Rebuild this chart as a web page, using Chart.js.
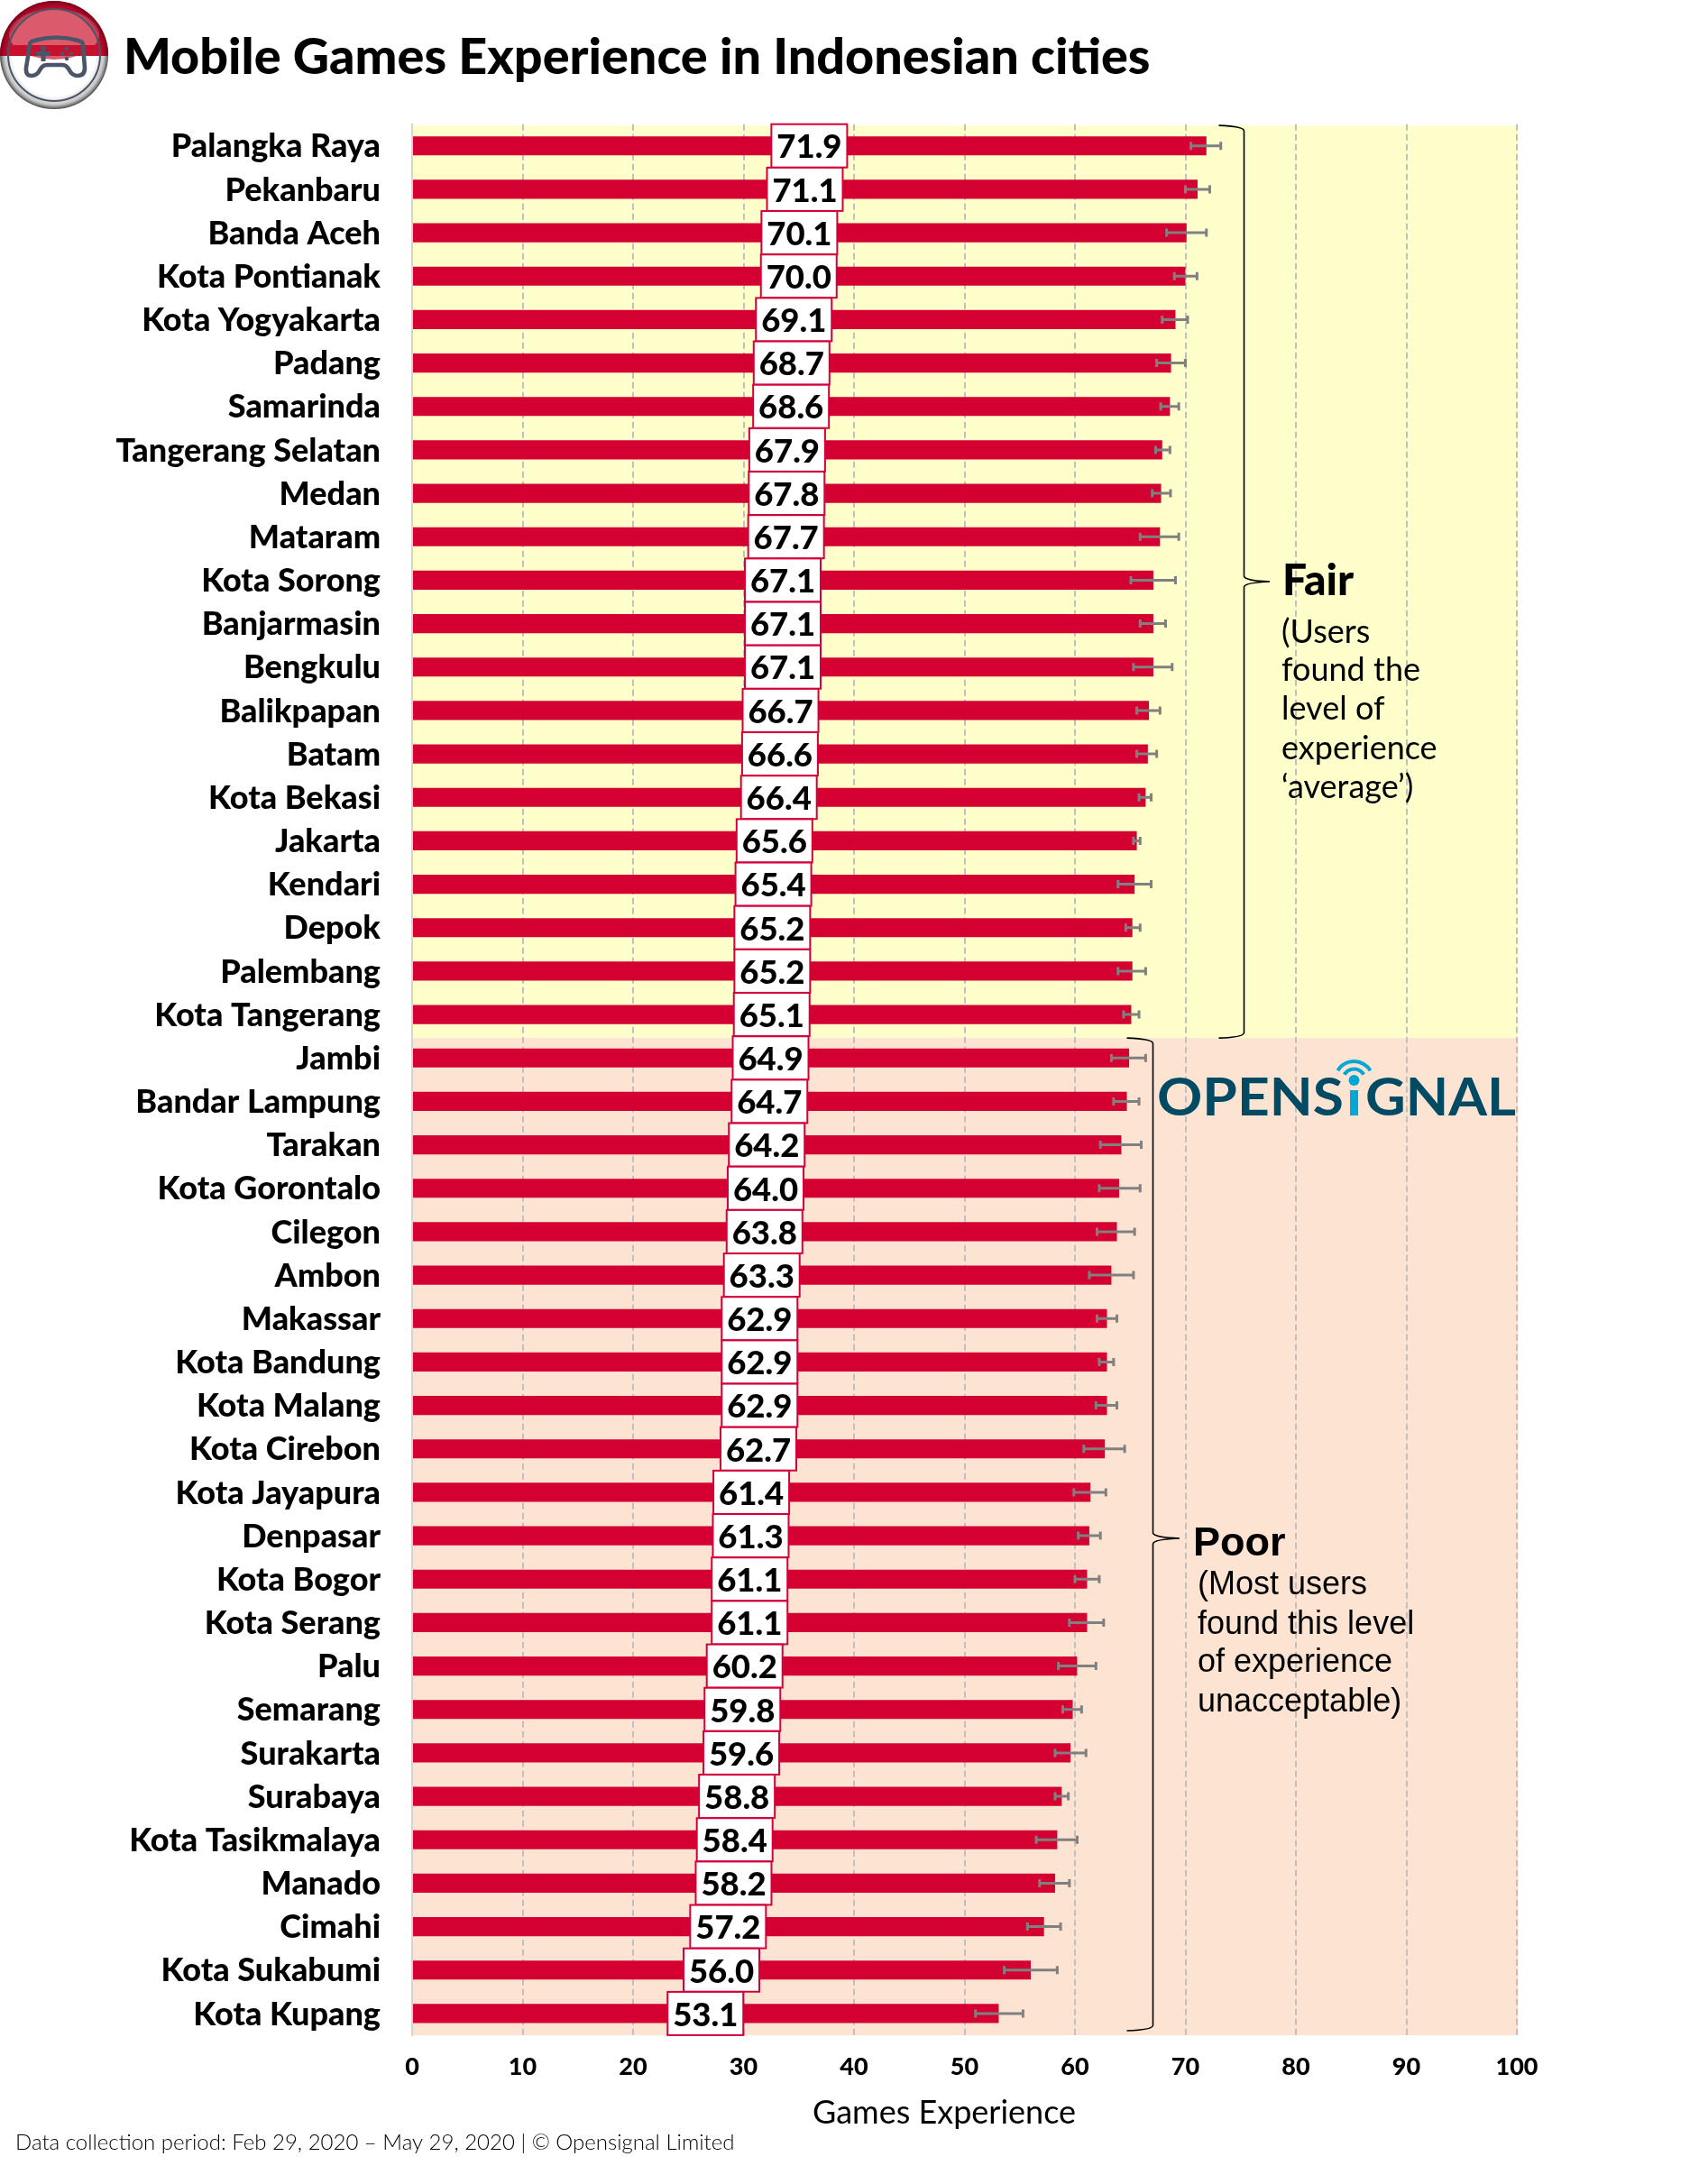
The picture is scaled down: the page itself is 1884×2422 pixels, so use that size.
<!DOCTYPE html>
<html>
<head>
<meta charset="utf-8">
<style>html,body{margin:0;padding:0;background:#fff}canvas{display:block}</style>
<script src="https://cdn.jsdelivr.net/npm/chart.js@4"></script>
</head>
<body>
<canvas id="c" width="1884" height="2422" style="width:1884px;height:2422px"></canvas>
<script>
const cities = ["Palangka Raya","Pekanbaru","Banda Aceh","Kota Pontianak","Kota Yogyakarta","Padang","Samarinda","Tangerang Selatan","Medan","Mataram","Kota Sorong","Banjarmasin","Bengkulu","Balikpapan","Batam","Kota Bekasi","Jakarta","Kendari","Depok","Palembang","Kota Tangerang","Jambi","Bandar Lampung","Tarakan","Kota Gorontalo","Cilegon","Ambon","Makassar","Kota Bandung","Kota Malang","Kota Cirebon","Kota Jayapura","Denpasar","Kota Bogor","Kota Serang","Palu","Semarang","Surakarta","Surabaya","Kota Tasikmalaya","Manado","Cimahi","Kota Sukabumi","Kota Kupang"];
const scores = [71.9,71.1,70.1,70.0,69.1,68.7,68.6,67.9,67.8,67.7,67.1,67.1,67.1,66.7,66.6,66.4,65.6,65.4,65.2,65.2,65.1,64.9,64.7,64.2,64.0,63.8,63.3,62.9,62.9,62.9,62.7,61.4,61.3,61.1,61.1,60.2,59.8,59.6,58.8,58.4,58.2,57.2,56.0,53.1];
const errorLow = [70.5,70.0,68.3,69.0,67.9,67.4,67.76,67.3,67.0,65.9,65.06,65.9,65.3,65.6,65.6,65.8,65.3,63.9,64.6,63.9,64.4,63.3,63.5,62.3,62.2,62.0,61.3,62.0,62.2,61.9,60.8,59.9,60.3,60.0,59.5,58.5,58.9,58.2,58.2,56.5,56.8,55.7,53.6,51.0];
const errorHigh = [73.2,72.2,71.9,71.05,70.2,70.0,69.4,68.6,68.65,69.4,69.1,68.2,68.8,67.7,67.4,66.9,65.9,66.9,65.9,66.4,65.8,66.4,65.8,66.0,65.9,65.4,65.3,63.8,63.5,63.8,64.5,62.8,62.3,62.2,62.6,61.9,60.6,61.0,59.4,60.2,59.5,58.7,58.4,55.3];
const xTicks = [0,10,20,30,40,50,60,70,80,90,100];
const fairCount = 21;
const titleText = "Mobile Games Experience in Indonesian cities";
const axisTitle = "Games Experience";
const footer = "Data collection period: Feb 29, 2020 \u2013 May 29, 2020 | \u00A9 Opensignal Limited";
const fairHead = "Fair";
const fairBody = ["(Users","found the","level of","experience","\u2018average\u2019)"];
const poorHead = "Poor";
const poorBody = ["(Most users","found this level","of experience","unacceptable)"];

const RED = "#D30031", BORDER = "#D4003A", YELLOW = "#FFFFCC", PEACH = "#FDE3D2";

function brace(ctx, x, top, mid, bot, tip, back){
  ctx.save(); ctx.strokeStyle="#000"; ctx.lineWidth=1.6; ctx.beginPath();
  ctx.moveTo(x-back, top);
  ctx.quadraticCurveTo(x, top+1, x, top+6);
  ctx.lineTo(x, mid-6);
  ctx.quadraticCurveTo(x+1, mid-1, tip, mid);
  ctx.quadraticCurveTo(x+1, mid+1, x, mid+6);
  ctx.lineTo(x, bot-6);
  ctx.quadraticCurveTo(x, bot-1, x-back, bot);
  ctx.stroke(); ctx.restore();
}
function drawIcon(ctx){
  const cx=60, cy=61, r=60;
  ctx.save();
  ctx.beginPath(); ctx.arc(cx,cy,r,0,Math.PI*2); ctx.clip();
  ctx.fillStyle="#C8102E"; ctx.fillRect(0,0,120,62);
  ctx.fillStyle="#FFFFFF"; ctx.fillRect(0,62,120,62);
  // top gloss
  ctx.fillStyle="#DB5A6B"; ctx.beginPath(); ctx.ellipse(60,38,50,28,0,0,Math.PI*2); ctx.fill();
  ctx.fillStyle="#C8102E"; ctx.fillRect(0,50,120,12);
  // rim shading: dark red above, grey below
  const g1=ctx.createRadialGradient(cx,cy,50,cx,cy,60);
  g1.addColorStop(0,"rgba(140,0,30,0)"); g1.addColorStop(1,"rgba(110,0,25,.85)");
  ctx.fillStyle=g1; ctx.fillRect(0,0,120,62);
  const g2=ctx.createRadialGradient(cx,cy,46,cx,cy,60);
  g2.addColorStop(0,"rgba(120,120,120,0)"); g2.addColorStop(.65,"rgba(110,110,110,.4)"); g2.addColorStop(1,"rgba(50,50,50,.9)");
  ctx.fillStyle=g2; ctx.fillRect(0,62,120,62);
  ctx.restore();
  ctx.save();
  ctx.strokeStyle="#4A5568"; ctx.fillStyle="#4A5568"; ctx.lineWidth=2;
  ctx.beginPath(); ctx.arc(cx,cy,51,0,Math.PI*2); ctx.stroke();
  ctx.lineWidth=4.6; ctx.lineJoin="round";
  ctx.beginPath();
  ctx.moveTo(33,50); ctx.quadraticCurveTo(33,46,38,45); ctx.quadraticCurveTo(62,38,87,45); ctx.quadraticCurveTo(92,46,92,50);
  ctx.lineTo(94,75); ctx.quadraticCurveTo(94,84,86,84); ctx.quadraticCurveTo(80,84,77,78); ctx.quadraticCurveTo(74,72,69,72);
  ctx.lineTo(52,72); ctx.quadraticCurveTo(47,72,44,78); ctx.quadraticCurveTo(41,84,35,84); ctx.quadraticCurveTo(28,84,29,75);
  ctx.closePath(); ctx.stroke();
  ctx.fillRect(40,57,16,5); ctx.fillRect(45.5,51,5,17);
  [[74,54],[74,65],[69,59.5],[79,59.5]].forEach(p=>{ctx.beginPath();ctx.arc(p[0],p[1],2.3,0,Math.PI*2);ctx.fill();});
  ctx.restore();
}
function fitText(ctx, txt, x0, x1, base){
  const w=ctx.measureText(txt).width;
  ctx.save(); ctx.translate(x0,base); ctx.scale((x1-x0)/w,1); ctx.textAlign="left"; ctx.fillText(txt,0,0); ctx.restore();
}
function drawLogo(ctx){
  ctx.save();
  ctx.font="700 58px Lato"; ctx.textBaseline="alphabetic"; ctx.fillStyle="#004B63";
  fitText(ctx,"OPENS",1283,1490,1237);
  fitText(ctx,"GNAL",1514,1681,1237);
  ctx.fillStyle="#00A7D6"; ctx.fillRect(1497,1209,9,28);
  ctx.beginPath(); ctx.arc(1501.5,1198,6,0,Math.PI*2); ctx.fill();
  ctx.strokeStyle="#00A7D6"; ctx.lineWidth=4;
  [12.5,21].forEach(r=>{ctx.beginPath();ctx.arc(1501.5,1198,r,-Math.PI*0.83,-Math.PI*0.17);ctx.stroke();});
  ctx.restore();
}
function lines(ctx, font, head, x, base, bodyFont, body, bx, bases){
  ctx.save(); ctx.fillStyle="#000"; ctx.textAlign="left"; ctx.textBaseline="alphabetic";
  ctx.font=font; ctx.fillText(head,x,base);
  ctx.font=bodyFont; body.forEach((t,i)=>ctx.fillText(t,bx,bases[i]));
  ctx.restore();
}
const splitY = y => y.getPixelForValue(fairCount-0.5)+2;
const bandTop = a => a.top+1.5;

const bandsPlugin = { id:"bands",
  beforeDraw(chart){
    const {ctx,chartArea:a,scales:{y}} = chart;
    if (chart.titleBlock) chart.titleBlock.left = 137;
    const split = splitY(y), t = bandTop(a);
    ctx.save();
    ctx.fillStyle=YELLOW; ctx.fillRect(a.left,t,a.right+1.5-a.left,split-t);
    ctx.fillStyle=PEACH; ctx.fillRect(a.left,split,a.right+1.5-a.left,a.bottom-split);
    ctx.restore();
  }
};
const marksPlugin = { id:"marks",
  afterDatasetsDraw(chart){
    const {ctx,scales:{x,y}} = chart;
    ctx.save();
    // error bars
    ctx.strokeStyle="#808080"; ctx.lineWidth=3;
    scores.forEach((v,i)=>{
      const py=y.getPixelForValue(i), lo=x.getPixelForValue(errorLow[i]), hi=x.getPixelForValue(errorHigh[i]);
      ctx.beginPath(); ctx.moveTo(lo,py); ctx.lineTo(hi,py);
      ctx.moveTo(lo,py-4.5); ctx.lineTo(lo,py+4.5);
      ctx.moveTo(hi,py-4.5); ctx.lineTo(hi,py+4.5); ctx.stroke();
    });
    // value boxes
    ctx.font="900 36.5px Lato"; ctx.textAlign="center"; ctx.textBaseline="middle";
    scores.forEach((v,i)=>{
      const py=y.getPixelForValue(i), px=x.getPixelForValue(v/2);
      ctx.fillStyle="#fff"; ctx.strokeStyle=BORDER; ctx.lineWidth=2;
      ctx.fillRect(px-42,py-24,84,48); ctx.strokeRect(px-42,py-24,84,48);
      ctx.fillStyle="#000"; ctx.fillText(v.toFixed(1),px,py+2);
    });
    ctx.restore();
  },
  afterDraw(chart){
    const {ctx,scales:{y}} = chart;
    const a=chart.chartArea, split=splitY(y);
    brace(ctx,1379.5,bandTop(a),645,split,1408,28);
    brace(ctx,1278.5,split,1706,a.bottom-5,1308,29);
    lines(ctx,"900 48px Lato",fairHead,1422,660,"400 36px Lato",fairBody,1421,[713,755,798,842,885]);
    lines(ctx,"700 45px 'Liberation Sans'",poorHead,1323,1725,"400 36px 'Liberation Sans'",poorBody,1328,[1768,1812,1854,1898]);
    drawLogo(ctx);
    drawIcon(ctx);
    ctx.save(); ctx.fillStyle="#000"; ctx.textBaseline="alphabetic";
    ctx.font="400 36px Lato"; ctx.textAlign="center"; ctx.fillText(axisTitle,1047,2355);
    ctx.font="300 24px Lato"; ctx.textAlign="left"; ctx.fillText(footer,17,2384);
    ctx.restore();
  }
};

new Chart(document.getElementById("c"),{
  type:"bar",
  data:{labels:cities,datasets:[{data:scores,backgroundColor:RED,borderWidth:0,barPercentage:0.44,categoryPercentage:1}]},
  plugins:[bandsPlugin,marksPlugin],
  options:{
    indexAxis:"y",responsive:false,animation:false,devicePixelRatio:1,
    layout:{padding:{left:60,right:202,top:0,bottom:0}},
    plugins:{
      legend:{display:false},tooltip:{enabled:false},
      title:{display:true,text:titleText,align:"start",color:"#000",font:{family:"Lato",size:55.7,weight:"900",lineHeight:1.2},padding:{top:31,bottom:39.8}}
    },
    scales:{
      x:{type:"linear",min:0,max:100,position:"bottom",
        afterBuildTicks(s){s.ticks=xTicks.map(v=>({value:v}));},
        afterFit(s){s.height=165;},
        grid:{color:"#C0C0C0",lineWidth:2,drawTicks:false},
        border:{display:false,dash:[7,4]},
        ticks:{color:"#000",padding:19,maxRotation:0,font:{family:"Lato",size:27,weight:"900"}}
      },
      y:{type:"category",
        afterFit(s){s.width=397;},
        grid:{display:false,drawTicks:false},
        border:{display:true,color:"#D4D4D4",width:2},
        ticks:{color:"#000",padding:35,autoSkip:false,labelOffset:1,font:{family:"Lato",size:36,weight:"900"}}
      }
    }
  }
});
</script>
</body>
</html>
